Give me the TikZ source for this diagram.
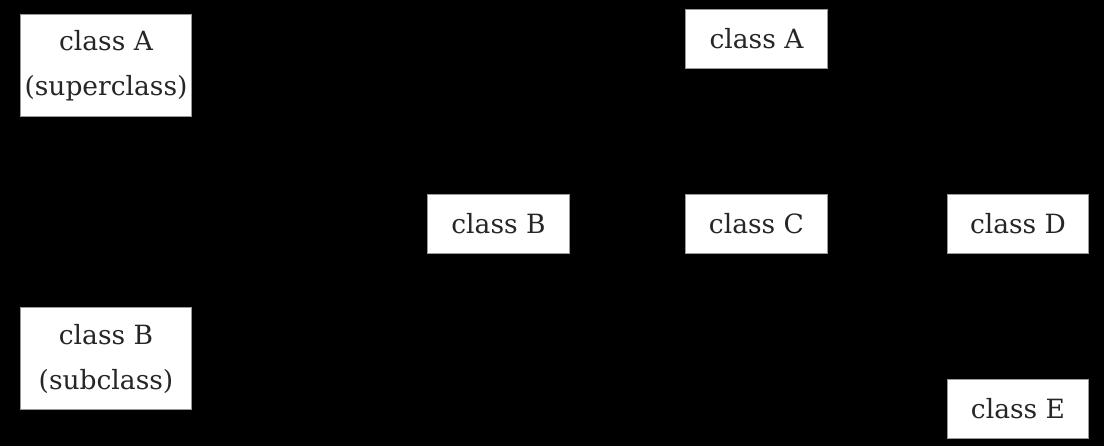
\documentclass[tikz,border=0pt]{standalone}
\usepackage{fontspec}
\setmainfont{DejaVu Serif}
\usetikzlibrary{arrows.meta,backgrounds}
\begin{document}
\begin{tikzpicture}[x=1pt,y=-1pt,
  cbox/.style={draw=black!40, line width=1pt, fill=white, text=black!85, inner sep=0pt, font=\fontsize{26.5}{45}\selectfont, align=center, anchor=north west},
  inh/.style={draw=black, line width=1.5pt, -{Triangle[open,length=14pt,width=14pt]}}]
\fill[black] (0,0) rectangle (1104,446);
\useasboundingbox (0,0) rectangle (1104,446);
\node[cbox, minimum width=171pt, minimum height=102pt] (supA) at (20,14) {class A\\(superclass)};
\node[cbox, minimum width=171pt, minimum height=102pt] (subB) at (20,307) {class B\\(subclass)};
\node[cbox, minimum width=142pt, minimum height=59pt] (A) at (685,9) {class A};
\node[cbox, minimum width=142pt, minimum height=59pt] (B) at (427,194) {class B};
\node[cbox, minimum width=142pt, minimum height=59pt] (C) at (685,194) {class C};
\node[cbox, minimum width=141pt, minimum height=59pt] (D) at (947,194) {class D};
\node[cbox, minimum width=141pt, minimum height=59pt] (E) at (947,379) {class E};
\begin{scope}[on background layer]
\draw[inh] (subB) -- (supA);
\draw[inh] (B) -- (A);
\draw[inh] (C) -- (A);
\draw[inh] (D) -- (A);
\draw[inh] (E) -- (D);
\end{scope}
\end{tikzpicture}
\end{document}
